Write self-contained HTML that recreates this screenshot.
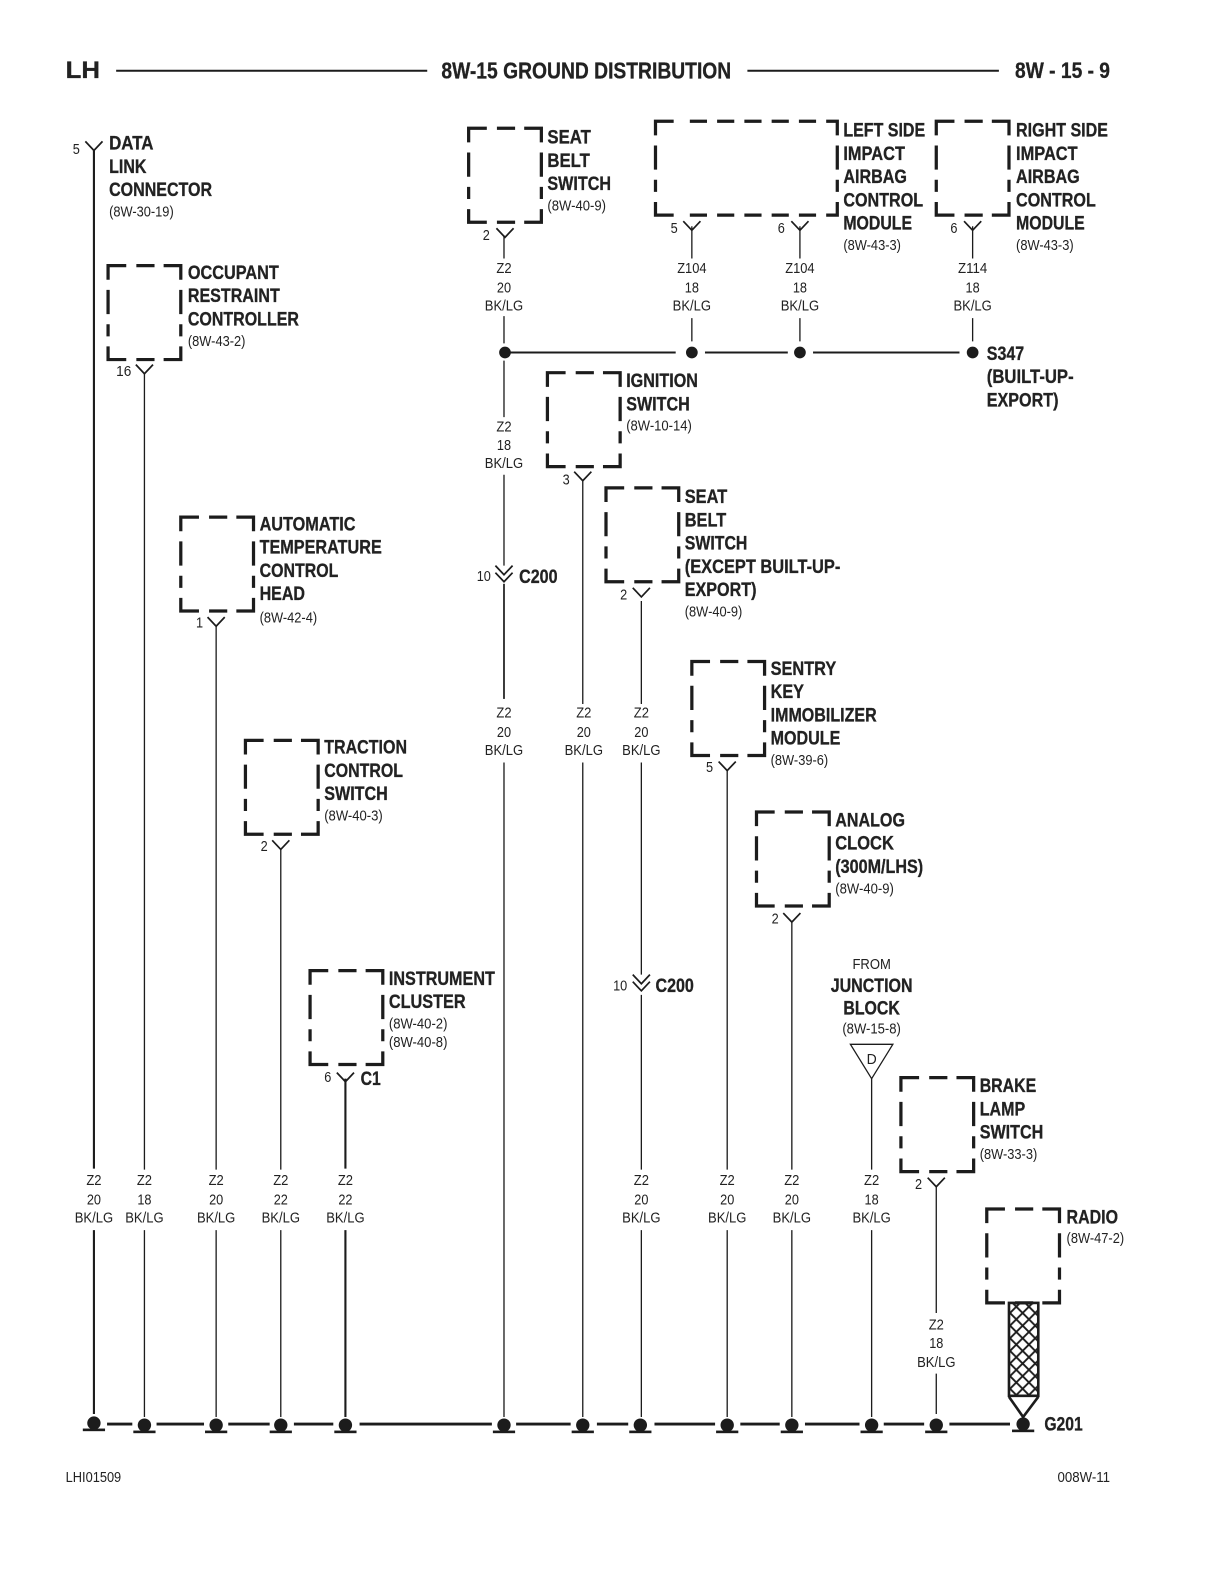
<!DOCTYPE html>
<html><head><meta charset="utf-8"><style>
html,body{margin:0;padding:0;background:#fff}
svg{display:block}
text{font-family:"Liberation Sans",sans-serif;fill:#222;dominant-baseline:central}
.b{font-weight:bold;font-size:19px;stroke:#222;stroke-width:.3;transform:translateY(.8px)}
.r{font-size:15px}
.m{text-anchor:middle}
.n{fill:none;stroke:#1c1c1c;stroke-linecap:butt}
.t{stroke-width:1.3}
.k{stroke-width:2.1}
.d{stroke-width:3.2}
</style></head><body>
<svg width="1224" height="1584" viewBox="0 0 1224 1584" xmlns="http://www.w3.org/2000/svg">
<defs>
<path id="bx" class="n d" d="M0,14V0H18M28,0H46M55,0H72V14M0,24V48M72,24V48M0,58V70M72,58V70M0,80V93H18M28,93H46M55,93H72V80"/>
<path id="y" fill="none" stroke="#1c1c1c" stroke-width="1.7" d="M-8.5,-9L0,0L8.5,-9"/>
<g id="gd"><circle r="6.6" fill="#1c1c1c"/><rect x="-11" y="5.4" width="22" height="2.6" fill="#1c1c1c"/></g>
<pattern id="hatch" width="12.5" height="12.5" patternUnits="userSpaceOnUse">
<path d="M0,0L12.5,12.5M12.5,0L0,12.5" stroke="#1c1c1c" stroke-width="1.9" fill="none"/>
</pattern>
</defs>
<rect width="1224" height="1584" fill="#fff"/>
<g transform="scale(1.01)">
<!-- header -->
<text x="65" y="70" style="font-weight:bold;font-size:24px;stroke:#222;stroke-width:.3" textLength="34" lengthAdjust="spacingAndGlyphs">LH</text>
<path class="n" style="stroke-width:2" d="M115,70H423M740,70H989"/>
<text x="437" y="70" style="font-weight:bold;font-size:23px;stroke:#222;stroke-width:.3" textLength="287" lengthAdjust="spacingAndGlyphs">8W-15 GROUND DISTRIBUTION</text>
<text x="1005" y="70" style="font-weight:bold;font-size:22px;stroke:#222;stroke-width:.3" textLength="94" lengthAdjust="spacingAndGlyphs">8W - 15 - 9</text>

<!-- boxes -->
<use href="#bx" x="107" y="263"/>
<use href="#bx" x="464" y="127"/>
<use href="#bx" x="542" y="369"/>
<use href="#bx" x="600" y="483"/>
<use href="#bx" x="179" y="512"/>
<use href="#bx" x="685" y="655"/>
<use href="#bx" x="243" y="733"/>
<use href="#bx" x="749" y="804"/>
<use href="#bx" x="307" y="961"/>
<use href="#bx" x="892" y="1067"/>
<use href="#bx" x="977" y="1197"/>
<use href="#bx" x="927" y="120"/>
<path class="n d" d="M649,134V120H667M683,120H700M710,120H727M737,120H754M764,120H781M791,120H808M818,120H829V134M649,144V168M829,144V168M649,178V190M829,178V190M649,200V213H667M683,213H700M710,213H727M737,213H754M764,213H781M791,213H808M818,213H829V200"/>

<!-- thick wires -->
<path class="n k" d="M93,149V1157M93,1218V1400M342,1068V1157M342,1218V1403"/>
<path class="n" style="stroke-width:1.7" d="M499,578V692"/>
<!-- thin wires -->
<path class="n t" d="M143,370V1158M143,1218V1403M214,620V1158M214,1218V1403M278,840V1158M278,1218V1403
M499,233V256M499,313V340M499,357V413M499,470V560M499,755V1403
M685,224V256M685,315V338M792,224V256M792,315V338M963,224V256M963,315V338
M577,475V697M577,755V1403
M635,595V697M635,755V965M635,985V1158M635,1218V1403
M720,762V1158M720,1218V1403M784,912V1158M784,1218V1403
M863,1068V1158M863,1218V1403M927,1175V1300M927,1360V1400"/>
<!-- Y connectors -->
<use href="#y" x="93" y="149"/><use href="#y" x="143" y="370"/><use href="#y" x="500" y="235"/>
<use href="#y" x="685" y="228"/><use href="#y" x="792" y="228"/><use href="#y" x="963" y="228"/>
<use href="#y" x="577" y="476"/><use href="#y" x="635" y="591"/><use href="#y" x="214" y="620"/>
<use href="#y" x="720" y="763"/><use href="#y" x="278" y="841"/><use href="#y" x="784" y="913"/>
<use href="#y" x="342" y="1071"/><use href="#y" x="927" y="1175"/>
<use href="#y" x="499" y="569"/><use href="#y" x="499" y="576"/>
<use href="#y" x="635" y="974"/><use href="#y" x="635" y="981"/>
<!-- numbers -->
<text class="r" x="72" y="148" textLength="7" lengthAdjust="spacingAndGlyphs">5</text><text class="r" x="115" y="368" textLength="15" lengthAdjust="spacingAndGlyphs">16</text>
<text class="r" x="478" y="233" textLength="7" lengthAdjust="spacingAndGlyphs">2</text><text class="r" x="664" y="226" textLength="7" lengthAdjust="spacingAndGlyphs">5</text>
<text class="r" x="770" y="226" textLength="7" lengthAdjust="spacingAndGlyphs">6</text><text class="r" x="941" y="226" textLength="7" lengthAdjust="spacingAndGlyphs">6</text>
<text class="r" x="557" y="475" textLength="7" lengthAdjust="spacingAndGlyphs">3</text><text class="r" x="614" y="589" textLength="7" lengthAdjust="spacingAndGlyphs">2</text>
<text class="r" x="194" y="617" textLength="7" lengthAdjust="spacingAndGlyphs">1</text><text class="r" x="699" y="760" textLength="7" lengthAdjust="spacingAndGlyphs">5</text>
<text class="r" x="258" y="838" textLength="7" lengthAdjust="spacingAndGlyphs">2</text><text class="r" x="764" y="910" textLength="7" lengthAdjust="spacingAndGlyphs">2</text>
<text class="r" x="321" y="1067" textLength="7" lengthAdjust="spacingAndGlyphs">6</text><text class="r" x="906" y="1173" textLength="7" lengthAdjust="spacingAndGlyphs">2</text>
<text class="r" x="472" y="571" textLength="14" lengthAdjust="spacingAndGlyphs">10</text><text class="r" x="607" y="976" textLength="14" lengthAdjust="spacingAndGlyphs">10</text>

<!-- junction lines -->
<path class="n" style="stroke-width:2" d="M505,349H669M698,349H780M805,349H950"/>
<circle cx="500" cy="349" r="5.8" fill="#1c1c1c"/><circle cx="685" cy="349" r="5.8" fill="#1c1c1c"/>
<circle cx="792" cy="349" r="5.8" fill="#1c1c1c"/><circle cx="963" cy="349" r="5.8" fill="#1c1c1c"/>

<!-- ground bus -->
<path class="n" style="stroke-width:2.8" d="M106,1410H131M155,1410H202M226,1410H267M291,1410H330M356,1410H487M511,1410H565M591,1410H622M648,1410H708M733,1410H772M797,1410H851M875,1410H915M940,1410H1000"/>
<use href="#gd" x="93" y="1409"/><use href="#gd" x="143" y="1411"/><use href="#gd" x="214" y="1411"/>
<use href="#gd" x="278" y="1411"/><use href="#gd" x="342" y="1411"/><use href="#gd" x="499" y="1411"/>
<use href="#gd" x="577" y="1411"/><use href="#gd" x="634" y="1411"/><use href="#gd" x="720" y="1411"/>
<use href="#gd" x="784" y="1411"/><use href="#gd" x="863" y="1411"/><use href="#gd" x="927" y="1411"/>
<use href="#gd" x="1013" y="1410"/>

<!-- shielded twist -->
<rect x="999" y="1290" width="29" height="92" fill="url(#hatch)" stroke="#1c1c1c" stroke-width="2.6"/>
<path class="n" style="stroke-width:2.6" d="M999,1383L1013,1403L1028,1383"/>

<!-- D triangle -->
<path class="n" style="stroke-width:1.3" d="M842,1034H884L863,1068Z"/>
<text class="r m" x="863" y="1049" textLength="10" lengthAdjust="spacingAndGlyphs">D</text>

<!-- labels -->
<text class="b" x="108" y="142" textLength="44" lengthAdjust="spacingAndGlyphs">DATA</text>
<text class="b" x="108" y="165" textLength="37" lengthAdjust="spacingAndGlyphs">LINK</text>
<text class="b" x="108" y="188" textLength="102" lengthAdjust="spacingAndGlyphs">CONNECTOR</text>
<text class="r" x="108" y="210" textLength="64" lengthAdjust="spacingAndGlyphs">(8W-30-19)</text>

<text class="b" x="186" y="270" textLength="90" lengthAdjust="spacingAndGlyphs">OCCUPANT</text>
<text class="b" x="186" y="293" textLength="91" lengthAdjust="spacingAndGlyphs">RESTRAINT</text>
<text class="b" x="186" y="316" textLength="110" lengthAdjust="spacingAndGlyphs">CONTROLLER</text>
<text class="r" x="186" y="338" textLength="57" lengthAdjust="spacingAndGlyphs">(8W-43-2)</text>

<text class="b" x="542" y="136" textLength="43" lengthAdjust="spacingAndGlyphs">SEAT</text>
<text class="b" x="542" y="159" textLength="42" lengthAdjust="spacingAndGlyphs">BELT</text>
<text class="b" x="542" y="182" textLength="63" lengthAdjust="spacingAndGlyphs">SWITCH</text>
<text class="r" x="542" y="204" textLength="58" lengthAdjust="spacingAndGlyphs">(8W-40-9)</text>

<text class="b" x="835" y="129" textLength="81" lengthAdjust="spacingAndGlyphs">LEFT SIDE</text>
<text class="b" x="835" y="152" textLength="61" lengthAdjust="spacingAndGlyphs">IMPACT</text>
<text class="b" x="835" y="175" textLength="63" lengthAdjust="spacingAndGlyphs">AIRBAG</text>
<text class="b" x="835" y="198" textLength="79" lengthAdjust="spacingAndGlyphs">CONTROL</text>
<text class="b" x="835" y="221" textLength="68" lengthAdjust="spacingAndGlyphs">MODULE</text>
<text class="r" x="835" y="243" textLength="57" lengthAdjust="spacingAndGlyphs">(8W-43-3)</text>

<text class="b" x="1006" y="129" textLength="91" lengthAdjust="spacingAndGlyphs">RIGHT SIDE</text>
<text class="b" x="1006" y="152" textLength="61" lengthAdjust="spacingAndGlyphs">IMPACT</text>
<text class="b" x="1006" y="175" textLength="63" lengthAdjust="spacingAndGlyphs">AIRBAG</text>
<text class="b" x="1006" y="198" textLength="79" lengthAdjust="spacingAndGlyphs">CONTROL</text>
<text class="b" x="1006" y="221" textLength="68" lengthAdjust="spacingAndGlyphs">MODULE</text>
<text class="r" x="1006" y="243" textLength="57" lengthAdjust="spacingAndGlyphs">(8W-43-3)</text>

<text class="b" x="977" y="350" textLength="37" lengthAdjust="spacingAndGlyphs">S347</text>
<text class="b" x="977" y="373" textLength="86" lengthAdjust="spacingAndGlyphs">(BUILT-UP-</text>
<text class="b" x="977" y="396" textLength="71" lengthAdjust="spacingAndGlyphs">EXPORT)</text>

<text class="b" x="620" y="377" textLength="71" lengthAdjust="spacingAndGlyphs">IGNITION</text>
<text class="b" x="620" y="400" textLength="63" lengthAdjust="spacingAndGlyphs">SWITCH</text>
<text class="r" x="620" y="422" textLength="65" lengthAdjust="spacingAndGlyphs">(8W-10-14)</text>

<text class="b" x="678" y="492" textLength="42" lengthAdjust="spacingAndGlyphs">SEAT</text>
<text class="b" x="678" y="515" textLength="41" lengthAdjust="spacingAndGlyphs">BELT</text>
<text class="b" x="678" y="538" textLength="62" lengthAdjust="spacingAndGlyphs">SWITCH</text>
<text class="b" x="678" y="561" textLength="154" lengthAdjust="spacingAndGlyphs">(EXCEPT BUILT-UP-</text>
<text class="b" x="678" y="584" textLength="71" lengthAdjust="spacingAndGlyphs">EXPORT)</text>
<text class="r" x="678" y="606" textLength="57" lengthAdjust="spacingAndGlyphs">(8W-40-9)</text>

<text class="b" x="257" y="519" textLength="95" lengthAdjust="spacingAndGlyphs">AUTOMATIC</text>
<text class="b" x="257" y="542" textLength="121" lengthAdjust="spacingAndGlyphs">TEMPERATURE</text>
<text class="b" x="257" y="565" textLength="78" lengthAdjust="spacingAndGlyphs">CONTROL</text>
<text class="b" x="257" y="588" textLength="45" lengthAdjust="spacingAndGlyphs">HEAD</text>
<text class="r" x="257" y="612" textLength="57" lengthAdjust="spacingAndGlyphs">(8W-42-4)</text>

<text class="b" x="763" y="662" textLength="65" lengthAdjust="spacingAndGlyphs">SENTRY</text>
<text class="b" x="763" y="685" textLength="33" lengthAdjust="spacingAndGlyphs">KEY</text>
<text class="b" x="763" y="708" textLength="105" lengthAdjust="spacingAndGlyphs">IMMOBILIZER</text>
<text class="b" x="763" y="731" textLength="69" lengthAdjust="spacingAndGlyphs">MODULE</text>
<text class="r" x="763" y="753" textLength="57" lengthAdjust="spacingAndGlyphs">(8W-39-6)</text>

<text class="b" x="321" y="740" textLength="82" lengthAdjust="spacingAndGlyphs">TRACTION</text>
<text class="b" x="321" y="763" textLength="78" lengthAdjust="spacingAndGlyphs">CONTROL</text>
<text class="b" x="321" y="786" textLength="63" lengthAdjust="spacingAndGlyphs">SWITCH</text>
<text class="r" x="321" y="808" textLength="58" lengthAdjust="spacingAndGlyphs">(8W-40-3)</text>

<text class="b" x="827" y="812" textLength="69" lengthAdjust="spacingAndGlyphs">ANALOG</text>
<text class="b" x="827" y="835" textLength="58" lengthAdjust="spacingAndGlyphs">CLOCK</text>
<text class="b" x="827" y="858" textLength="87" lengthAdjust="spacingAndGlyphs">(300M/LHS)</text>
<text class="r" x="827" y="880" textLength="58" lengthAdjust="spacingAndGlyphs">(8W-40-9)</text>

<text class="b" x="385" y="969" textLength="105" lengthAdjust="spacingAndGlyphs">INSTRUMENT</text>
<text class="b" x="385" y="992" textLength="76" lengthAdjust="spacingAndGlyphs">CLUSTER</text>
<text class="r" x="385" y="1014" textLength="58" lengthAdjust="spacingAndGlyphs">(8W-40-2)</text>
<text class="r" x="385" y="1032" textLength="58" lengthAdjust="spacingAndGlyphs">(8W-40-8)</text>

<text class="r m" x="863" y="955" textLength="38" lengthAdjust="spacingAndGlyphs">FROM</text>
<text class="b m" x="863" y="976" textLength="81" lengthAdjust="spacingAndGlyphs">JUNCTION</text>
<text class="b m" x="863" y="998" textLength="56" lengthAdjust="spacingAndGlyphs">BLOCK</text>
<text class="r m" x="863" y="1019" textLength="58" lengthAdjust="spacingAndGlyphs">(8W-15-8)</text>

<text class="b" x="970" y="1075" textLength="56" lengthAdjust="spacingAndGlyphs">BRAKE</text>
<text class="b" x="970" y="1098" textLength="45" lengthAdjust="spacingAndGlyphs">LAMP</text>
<text class="b" x="970" y="1121" textLength="63" lengthAdjust="spacingAndGlyphs">SWITCH</text>
<text class="r" x="970" y="1143" textLength="57" lengthAdjust="spacingAndGlyphs">(8W-33-3)</text>

<text class="b" x="1056" y="1205" textLength="51" lengthAdjust="spacingAndGlyphs">RADIO</text>
<text class="r" x="1056" y="1226" textLength="57" lengthAdjust="spacingAndGlyphs">(8W-47-2)</text>

<text class="b" x="357" y="1068" textLength="20" lengthAdjust="spacingAndGlyphs">C1</text>
<text class="b" x="514" y="571" textLength="38" lengthAdjust="spacingAndGlyphs">C200</text>
<text class="b" x="649" y="976" textLength="38" lengthAdjust="spacingAndGlyphs">C200</text>
<text class="b" x="1034" y="1410" textLength="38" lengthAdjust="spacingAndGlyphs">G201</text>

<!-- wire labels: top -->
<text class="r m" x="499" y="266" textLength="15" lengthAdjust="spacingAndGlyphs">Z2</text><text class="r m" x="499" y="285" textLength="14" lengthAdjust="spacingAndGlyphs">20</text><text class="r m" x="499" y="303" textLength="38" lengthAdjust="spacingAndGlyphs">BK/LG</text>
<text class="r m" x="685" y="266" textLength="29" lengthAdjust="spacingAndGlyphs">Z104</text><text class="r m" x="685" y="285" textLength="14" lengthAdjust="spacingAndGlyphs">18</text><text class="r m" x="685" y="303" textLength="38" lengthAdjust="spacingAndGlyphs">BK/LG</text>
<text class="r m" x="792" y="266" textLength="29" lengthAdjust="spacingAndGlyphs">Z104</text><text class="r m" x="792" y="285" textLength="14" lengthAdjust="spacingAndGlyphs">18</text><text class="r m" x="792" y="303" textLength="38" lengthAdjust="spacingAndGlyphs">BK/LG</text>
<text class="r m" x="963" y="266" textLength="29" lengthAdjust="spacingAndGlyphs">Z114</text><text class="r m" x="963" y="285" textLength="14" lengthAdjust="spacingAndGlyphs">18</text><text class="r m" x="963" y="303" textLength="38" lengthAdjust="spacingAndGlyphs">BK/LG</text>
<!-- mid -->
<text class="r m" x="499" y="423" textLength="15" lengthAdjust="spacingAndGlyphs">Z2</text><text class="r m" x="499" y="441" textLength="14" lengthAdjust="spacingAndGlyphs">18</text><text class="r m" x="499" y="459" textLength="38" lengthAdjust="spacingAndGlyphs">BK/LG</text>
<text class="r m" x="499" y="706" textLength="15" lengthAdjust="spacingAndGlyphs">Z2</text><text class="r m" x="499" y="725" textLength="14" lengthAdjust="spacingAndGlyphs">20</text><text class="r m" x="499" y="743" textLength="38" lengthAdjust="spacingAndGlyphs">BK/LG</text>
<text class="r m" x="578" y="706" textLength="15" lengthAdjust="spacingAndGlyphs">Z2</text><text class="r m" x="578" y="725" textLength="14" lengthAdjust="spacingAndGlyphs">20</text><text class="r m" x="578" y="743" textLength="38" lengthAdjust="spacingAndGlyphs">BK/LG</text>
<text class="r m" x="635" y="706" textLength="15" lengthAdjust="spacingAndGlyphs">Z2</text><text class="r m" x="635" y="725" textLength="14" lengthAdjust="spacingAndGlyphs">20</text><text class="r m" x="635" y="743" textLength="38" lengthAdjust="spacingAndGlyphs">BK/LG</text>
<text class="r m" x="927" y="1312" textLength="15" lengthAdjust="spacingAndGlyphs">Z2</text><text class="r m" x="927" y="1330" textLength="14" lengthAdjust="spacingAndGlyphs">18</text><text class="r m" x="927" y="1349" textLength="38" lengthAdjust="spacingAndGlyphs">BK/LG</text>
<!-- bottom row -->
<text class="r m" x="93" y="1169" textLength="15" lengthAdjust="spacingAndGlyphs">Z2</text><text class="r m" x="93" y="1188" textLength="14" lengthAdjust="spacingAndGlyphs">20</text><text class="r m" x="93" y="1206" textLength="38" lengthAdjust="spacingAndGlyphs">BK/LG</text>
<text class="r m" x="143" y="1169" textLength="15" lengthAdjust="spacingAndGlyphs">Z2</text><text class="r m" x="143" y="1188" textLength="14" lengthAdjust="spacingAndGlyphs">18</text><text class="r m" x="143" y="1206" textLength="38" lengthAdjust="spacingAndGlyphs">BK/LG</text>
<text class="r m" x="214" y="1169" textLength="15" lengthAdjust="spacingAndGlyphs">Z2</text><text class="r m" x="214" y="1188" textLength="14" lengthAdjust="spacingAndGlyphs">20</text><text class="r m" x="214" y="1206" textLength="38" lengthAdjust="spacingAndGlyphs">BK/LG</text>
<text class="r m" x="278" y="1169" textLength="15" lengthAdjust="spacingAndGlyphs">Z2</text><text class="r m" x="278" y="1188" textLength="14" lengthAdjust="spacingAndGlyphs">22</text><text class="r m" x="278" y="1206" textLength="38" lengthAdjust="spacingAndGlyphs">BK/LG</text>
<text class="r m" x="342" y="1169" textLength="15" lengthAdjust="spacingAndGlyphs">Z2</text><text class="r m" x="342" y="1188" textLength="14" lengthAdjust="spacingAndGlyphs">22</text><text class="r m" x="342" y="1206" textLength="38" lengthAdjust="spacingAndGlyphs">BK/LG</text>
<text class="r m" x="635" y="1169" textLength="15" lengthAdjust="spacingAndGlyphs">Z2</text><text class="r m" x="635" y="1188" textLength="14" lengthAdjust="spacingAndGlyphs">20</text><text class="r m" x="635" y="1206" textLength="38" lengthAdjust="spacingAndGlyphs">BK/LG</text>
<text class="r m" x="720" y="1169" textLength="15" lengthAdjust="spacingAndGlyphs">Z2</text><text class="r m" x="720" y="1188" textLength="14" lengthAdjust="spacingAndGlyphs">20</text><text class="r m" x="720" y="1206" textLength="38" lengthAdjust="spacingAndGlyphs">BK/LG</text>
<text class="r m" x="784" y="1169" textLength="15" lengthAdjust="spacingAndGlyphs">Z2</text><text class="r m" x="784" y="1188" textLength="14" lengthAdjust="spacingAndGlyphs">20</text><text class="r m" x="784" y="1206" textLength="38" lengthAdjust="spacingAndGlyphs">BK/LG</text>
<text class="r m" x="863" y="1169" textLength="15" lengthAdjust="spacingAndGlyphs">Z2</text><text class="r m" x="863" y="1188" textLength="14" lengthAdjust="spacingAndGlyphs">18</text><text class="r m" x="863" y="1206" textLength="38" lengthAdjust="spacingAndGlyphs">BK/LG</text>

<!-- footer -->
<text class="r" x="65" y="1463" textLength="55" lengthAdjust="spacingAndGlyphs">LHI01509</text>
<text class="r" x="1047" y="1463" textLength="52" lengthAdjust="spacingAndGlyphs">008W-11</text>
</g>
</svg>
</body></html>
